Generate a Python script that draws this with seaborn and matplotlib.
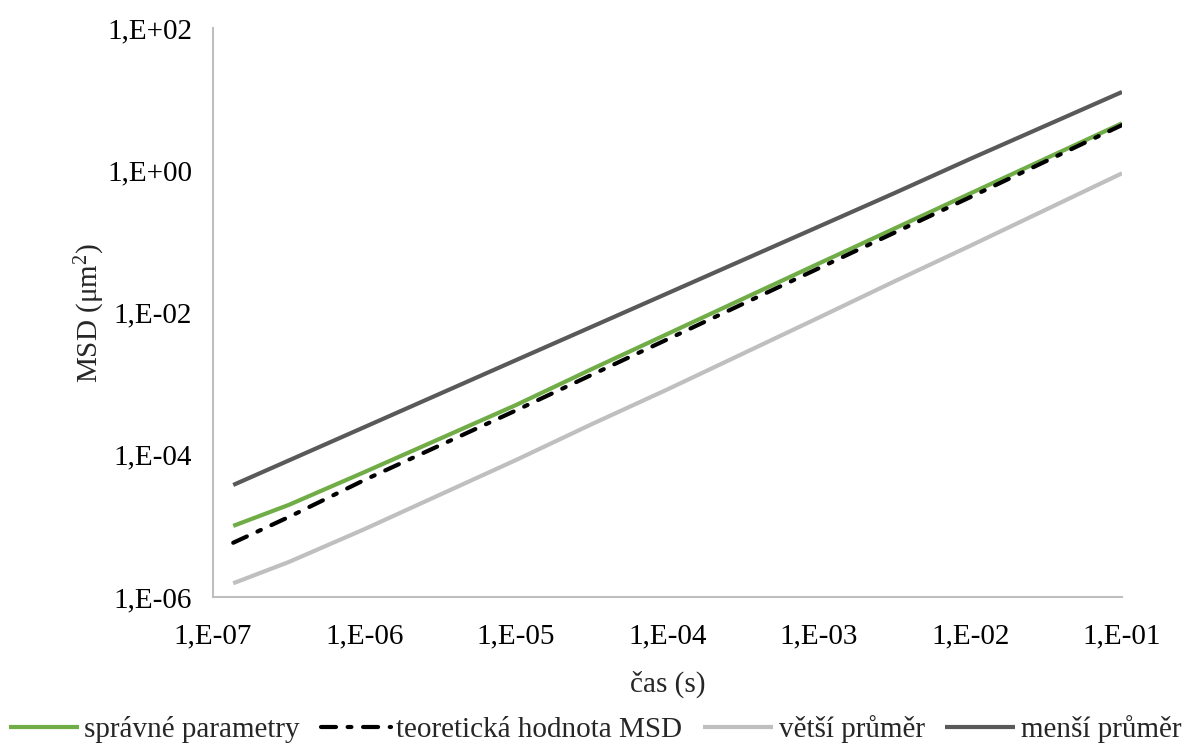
import numpy as np
import pandas as pd
import matplotlib
matplotlib.use("Agg")
import matplotlib.pyplot as plt
import seaborn as sns

# time (s)
cas = [1.36e-7, 3.16e-7, 1e-6, 1e-5, 3.16e-5, 1e-4, 1e-3, 3.16e-3, 1e-2, 1e-1]
# MSD (um^2)
spravne = [1.0e-5, 1.97e-5, 5.71e-5, 5.0e-4, 1.6e-3, 5.0e-3, 4.9e-2, 0.152, 0.473, 4.57]
teorie = [5.79e-6, 1.33e-5, 4.42e-5, 4.2e-4, 1.33e-3, 4.2e-3, 4.2e-2, 0.133, 0.42, 4.32]
vetsi = [1.56e-6, 3.1e-6, 9.0e-6, 8.43e-5, 2.69e-4, 8.3e-4, 8.5e-3, 2.75e-2, 8.7e-2, 0.906]
mensi = [3.76e-5, 8.3e-5, 2.45e-4, 2.14e-3, 6.3e-3, 1.86e-2, 0.162, 0.479, 1.45, 12.6]

labels = ["správné parametry", "teoretická hodnota MSD", "větší průměr", "menší průměr"]
xticks = [1e-7, 1e-6, 1e-5, 1e-4, 1e-3, 1e-2, 1e-1]
xticklabels = ["1,E-07", "1,E-06", "1,E-05", "1,E-04", "1,E-03", "1,E-02", "1,E-01"]
yticks = [1e-6, 1e-4, 1e-2, 1e0, 1e2]
yticklabels = ["1,E-06", "1,E-04", "1,E-02", "1,E+00", "1,E+02"]

sns.set_theme(style="white")
plt.rcParams["font.family"] = ["Liberation Serif", "DejaVu Serif"]
plt.rcParams["font.size"] = 21
plt.rcParams["mathtext.fontset"] = "custom"
plt.rcParams["mathtext.rm"] = "Liberation Serif"
plt.rcParams["mathtext.it"] = "Liberation Serif:italic"

fig = plt.figure(figsize=(11.9, 7.46), dpi=100)
ax = fig.add_axes([213 / 1190, 149 / 746, (1122 - 213) / 1190, (597 - 28) / 746])

series = [
    (spravne, "#70AD47", "-"),
    (teorie, "#000000", (0, (3.6, 2.8, 0.9, 2.8))),
    (vetsi, "#BFBFBF", "-"),
    (mensi, "#595959", "-"),
]
for (vals, col, ls), lab in zip(series, labels):
    df = pd.DataFrame({"cas": cas, "msd": vals})
    sns.lineplot(data=df, x="cas", y="msd", ax=ax, color=col, linestyle=ls,
                 linewidth=3.0, label=lab, solid_capstyle="butt", dash_capstyle="round")

ax.set_xscale("log")
ax.set_yscale("log")
ax.set_xlim(1e-7, 1e-1)
ax.set_ylim(1e-6, 1e2)
ax.set_xticks(xticks)
ax.set_xticklabels(xticklabels)
ax.set_yticks(yticks)
ax.set_yticklabels(yticklabels)
ax.minorticks_off()
ax.grid(False)

for s in ["top", "right"]:
    ax.spines[s].set_visible(False)
for s in ["left", "bottom"]:
    ax.spines[s].set_color("#BFBFBF")
    ax.spines[s].set_linewidth(1.5)
ax.tick_params(axis="both", which="major", direction="out", length=8, width=1.5,
               color="#BFBFBF", labelsize=21, labelcolor="black")
ax.tick_params(axis="x", pad=11)
ax.tick_params(axis="y", pad=7)

ax.set_xlabel("čas (s)", fontsize=21, labelpad=15)
ax.set_ylabel("MSD (μm$^{\\mathregular{2}}$)", fontsize=21, labelpad=0)

ax.get_legend().remove()
handles, labs = ax.get_legend_handles_labels()
fig.legend(handles, labs, loc="lower center", bbox_to_anchor=(0.5, -0.012), ncol=4,
           frameon=False, fontsize=21, handlelength=2.4, handletextpad=0.2,
           columnspacing=0.7, borderaxespad=0.0)

fig.savefig("out.png", dpi=100)
